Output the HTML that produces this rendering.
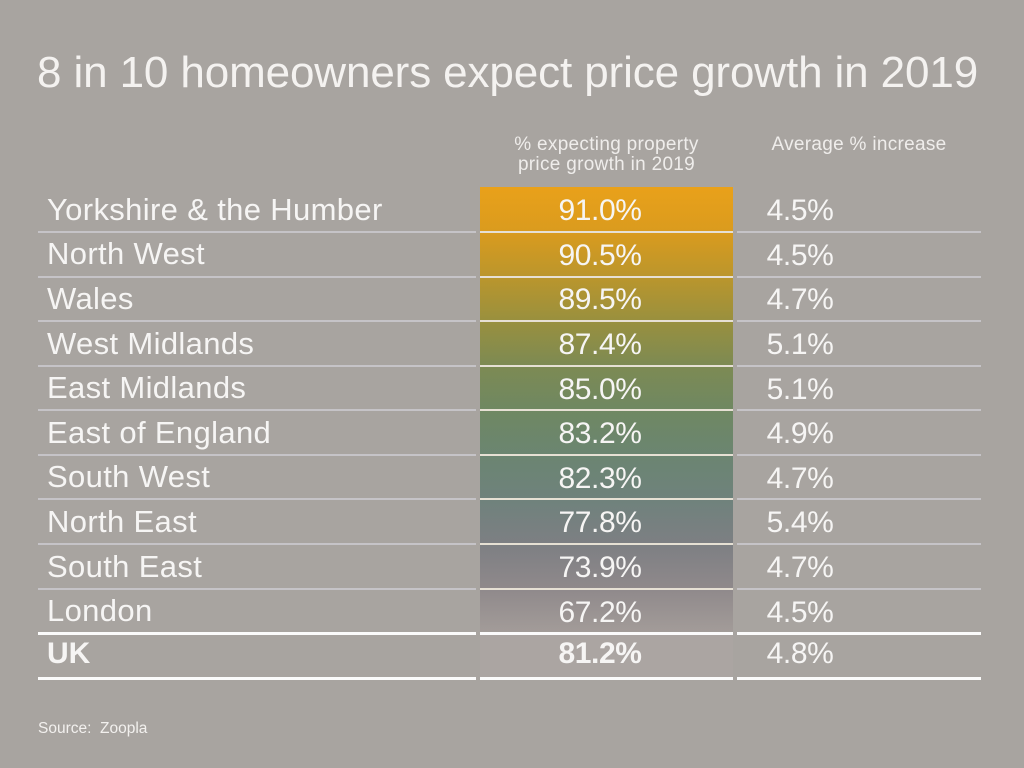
<!DOCTYPE html>
<html>
<head>
<meta charset="utf-8">
<style>
  html, body { margin:0; padding:0; }
  body { width:1024px; height:768px; background:#a8a4a0; position:relative; overflow:hidden;
         font-family:"Liberation Sans", Arial, sans-serif; color:#f6f5f4; }
  .abs { position:absolute; white-space:nowrap; }
  .title { left:37px; top:50.75px; font-size:44px; line-height:44px; letter-spacing:-0.12px; color:#f4f2f0; }
  .hdr { font-size:19px; line-height:20px; color:#efedeb; text-align:center; letter-spacing:0.3px; }
  .lbl { left:47px; font-size:31px; line-height:31px; letter-spacing:0.35px; }
  .val { font-size:30px; line-height:30px; text-align:center; letter-spacing:-0.4px; }
  .bar { position:absolute; left:480px; top:187px; width:253px; height:446px;
         background:linear-gradient(to bottom,
           #e9a11a 0%, #da9b1e 10%, #bb962c 20%, #99903e 30%, #7d8a53 40%,
           #6f8862 50%, #6b8571 60%, #6f827c 70%, #7d7f83 80%, #8f898b 90%, #a39c99 100%); }
  .ukbar { position:absolute; left:480px; top:635px; width:253px; height:42px; background:#aba5a2; }
  .ln { position:absolute; height:2px; }
  .thin { background:#c5c3c7; }
  .barln { background:#e6e0d4; }
  .thick { height:3px; background:#fbfbfb; }
  .src { left:38px; top:721px; font-size:15.5px; line-height:16px; color:#f2f0ee; }
</style>
</head>
<body>
<div class="abs title">8 in 10 homeowners expect price growth in 2019</div>

<div class="abs hdr" style="left:480px; width:253px; top:135.4px;">% expecting property<br>price growth in 2019</div>
<div class="abs hdr" style="left:737px; width:244px; top:135.4px;">Average % increase</div>

<div class="bar"></div>
<div class="ukbar"></div>

<!-- thin separators -->
<div class="ln thin" style="left:38px; width:438px; top:231px;"></div>
<div class="ln barln" style="left:480px; width:253px; top:231px;"></div>
<div class="ln thin" style="left:737px; width:244px; top:231px;"></div>

<div class="ln thin" style="left:38px; width:438px; top:276px;"></div>
<div class="ln barln" style="left:480px; width:253px; top:276px;"></div>
<div class="ln thin" style="left:737px; width:244px; top:276px;"></div>

<div class="ln thin" style="left:38px; width:438px; top:320px;"></div>
<div class="ln barln" style="left:480px; width:253px; top:320px;"></div>
<div class="ln thin" style="left:737px; width:244px; top:320px;"></div>

<div class="ln thin" style="left:38px; width:438px; top:365px;"></div>
<div class="ln barln" style="left:480px; width:253px; top:365px;"></div>
<div class="ln thin" style="left:737px; width:244px; top:365px;"></div>

<div class="ln thin" style="left:38px; width:438px; top:409px;"></div>
<div class="ln barln" style="left:480px; width:253px; top:409px;"></div>
<div class="ln thin" style="left:737px; width:244px; top:409px;"></div>

<div class="ln thin" style="left:38px; width:438px; top:454px;"></div>
<div class="ln barln" style="left:480px; width:253px; top:454px;"></div>
<div class="ln thin" style="left:737px; width:244px; top:454px;"></div>

<div class="ln thin" style="left:38px; width:438px; top:498px;"></div>
<div class="ln barln" style="left:480px; width:253px; top:498px;"></div>
<div class="ln thin" style="left:737px; width:244px; top:498px;"></div>

<div class="ln thin" style="left:38px; width:438px; top:543px;"></div>
<div class="ln barln" style="left:480px; width:253px; top:543px;"></div>
<div class="ln thin" style="left:737px; width:244px; top:543px;"></div>

<div class="ln thin" style="left:38px; width:438px; top:588px;"></div>
<div class="ln barln" style="left:480px; width:253px; top:588px;"></div>
<div class="ln thin" style="left:737px; width:244px; top:588px;"></div>

<!-- thick lines -->
<div class="ln thick" style="left:38px; width:438px; top:632px;"></div>
<div class="ln thick" style="left:480px; width:253px; top:632px;"></div>
<div class="ln thick" style="left:737px; width:244px; top:632px;"></div>

<div class="ln thick" style="left:38px; width:438px; top:677px;"></div>
<div class="ln thick" style="left:480px; width:253px; top:677px;"></div>
<div class="ln thick" style="left:737px; width:244px; top:677px;"></div>

<!-- labels -->
<div class="abs lbl" style="top:193.8px;">Yorkshire &amp; the Humber</div>
<div class="abs lbl" style="top:238.4px;">North West</div>
<div class="abs lbl" style="top:283.0px;">Wales</div>
<div class="abs lbl" style="top:327.6px;">West Midlands</div>
<div class="abs lbl" style="top:372.2px;">East Midlands</div>
<div class="abs lbl" style="top:416.8px;">East of England</div>
<div class="abs lbl" style="top:461.4px;">South West</div>
<div class="abs lbl" style="top:506.0px;">North East</div>
<div class="abs lbl" style="top:550.6px;">South East</div>
<div class="abs lbl" style="top:595.2px;">London</div>
<div class="abs lbl" style="top:638.5px; font-weight:bold; font-size:30px; line-height:30px; letter-spacing:0;">UK</div>

<!-- bar values -->
<div class="abs val" style="left:520px; width:160px; top:196.1px;">91.0%</div>
<div class="abs val" style="left:520px; width:160px; top:240.7px;">90.5%</div>
<div class="abs val" style="left:520px; width:160px; top:285.3px;">89.5%</div>
<div class="abs val" style="left:520px; width:160px; top:329.9px;">87.4%</div>
<div class="abs val" style="left:520px; width:160px; top:374.5px;">85.0%</div>
<div class="abs val" style="left:520px; width:160px; top:419.1px;">83.2%</div>
<div class="abs val" style="left:520px; width:160px; top:463.7px;">82.3%</div>
<div class="abs val" style="left:520px; width:160px; top:508.3px;">77.8%</div>
<div class="abs val" style="left:520px; width:160px; top:552.9px;">73.9%</div>
<div class="abs val" style="left:520px; width:160px; top:597.5px;">67.2%</div>
<div class="abs val" style="left:520px; width:160px; top:638.6px; font-weight:bold;">81.2%</div>

<!-- right values -->
<div class="abs val" style="left:720px; width:160px; top:196.1px;">4.5%</div>
<div class="abs val" style="left:720px; width:160px; top:240.7px;">4.5%</div>
<div class="abs val" style="left:720px; width:160px; top:285.3px;">4.7%</div>
<div class="abs val" style="left:720px; width:160px; top:329.9px;">5.1%</div>
<div class="abs val" style="left:720px; width:160px; top:374.5px;">5.1%</div>
<div class="abs val" style="left:720px; width:160px; top:419.1px;">4.9%</div>
<div class="abs val" style="left:720px; width:160px; top:463.7px;">4.7%</div>
<div class="abs val" style="left:720px; width:160px; top:508.3px;">5.4%</div>
<div class="abs val" style="left:720px; width:160px; top:552.9px;">4.7%</div>
<div class="abs val" style="left:720px; width:160px; top:597.5px;">4.5%</div>
<div class="abs val" style="left:720px; width:160px; top:638.6px;">4.8%</div>

<div class="abs src">Source:&nbsp; Zoopla</div>
</body>
</html>
